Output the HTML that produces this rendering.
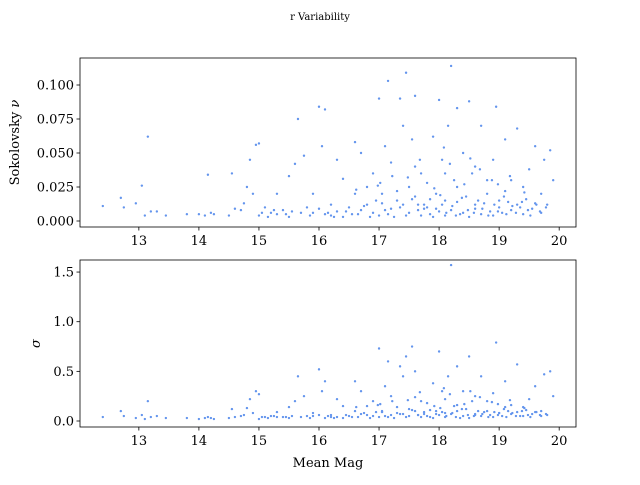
<!DOCTYPE html>
<html><head><meta charset="utf-8"><style>
body{margin:0;background:#fff;}
svg text{font-family:"DejaVu Serif","Liberation Serif",serif;fill:#000;}
</style></head><body>
<svg id="fig" width="640" height="480" xmlns="http://www.w3.org/2000/svg">
<text x="320" y="20" font-size="10" text-anchor="middle">r Variability</text>
<g id="top"></g>
<g id="bot"></g>
</svg>
<script>
const mags=[12.4,12.7,12.75,12.95,13.05,13.15,13.2,13.3,13.45,13.1,13.8,14.0,14.1,14.15,14.2,14.25,14.5,14.6,14.7,14.55,14.75,14.8,14.85,14.9,14.95,15.0,15.0,15.1,15.2,15.3,15.4,15.5,15.6,15.65,15.7,15.75,15.8,15.9,16.0,16.05,16.1,16.1,16.2,16.3,16.3,16.4,16.5,16.6,16.6,16.7,16.8,16.9,17.0,17.05,17.1,17.1,17.15,17.2,17.3,17.35,17.4,17.45,17.5,17.55,17.6,17.65,17.7,17.8,17.9,17.95,18.0,18.05,18.1,18.15,18.2,18.25,18.3,18.35,18.4,18.5,18.55,18.6,18.7,18.8,18.9,18.95,19.0,19.1,19.2,19.3,19.35,19.5,19.6,19.7,19.75,19.85,19.9,19.8,16.55,16.7,16.85,16.95,17.0,17.2,17.25,17.4,17.5,17.6,17.7,17.75,17.85,17.9,18.0,18.05,18.1,18.2,18.3,18.4,18.45,18.5,18.6,18.7,18.75,18.85,18.9,19.0,19.05,19.15,19.2,19.3,19.4,19.45,19.55,19.6,19.7,16.4,16.2,15.9,15.5,15.3,17.3,17.8,18.3,18.8,19.1,18.6,17.6,18.1,16.8,19.4,
15.05,15.15,15.25,15.45,15.55,15.85,16.0,16.15,16.25,16.45,16.65,16.75,16.9,17.05,17.15,17.35,17.45,17.55,17.65,17.75,17.85,17.95,18.02,18.12,18.22,18.28,18.38,18.48,18.58,18.65,18.72,18.82,18.92,18.98,19.08,19.12,19.22,19.28,19.38,19.48,19.52,19.62,19.68,19.78,17.02,17.48,17.92,18.18,18.42,18.68,18.88,19.18,19.42,17.22,17.68,18.08,18.52,18.98,16.62,16.98];
const nus=[.011,.017,.010,.013,.026,.062,.007,.007,.004,.004,.005,.005,.004,.034,.006,.005,.004,.009,.008,.035,.013,.025,.045,.02,.056,.057,.004,.01,.006,.02,.008,.033,.042,.075,.006,.048,.01,.02,.084,.055,.082,.005,.012,.045,.007,.031,.01,.058,.02,.05,.012,.035,.09,.02,.055,.008,.103,.043,.015,.09,.07,.109,.025,.06,.092,.012,.035,.01,.062,.02,.089,.045,.015,.07,.114,.03,.083,.005,.05,.088,.035,.012,.07,.02,.045,.084,.015,.06,.03,.068,.01,.038,.055,.02,.045,.052,.03,.012,.005,.008,.003,.015,.004,.009,.003,.012,.006,.018,.004,.009,.016,.003,.007,.012,.004,.008,.014,.006,.018,.003,.009,.005,.013,.007,.004,.01,.006,.014,.008,.012,.005,.016,.009,.013,.006,.003,.004,.006,.003,.005,.022,.028,.025,.03,.022,.04,.04,.035,.025,.025,
.006,.003,.008,.005,.007,.004,.009,.006,.003,.007,.005,.011,.006,.013,.005,.01,.004,.016,.008,.012,.005,.009,.019,.006,.011,.004,.017,.008,.006,.015,.009,.004,.012,.007,.018,.005,.011,.006,.014,.008,.004,.012,.007,.01,.028,.032,.024,.042,.027,.038,.03,.033,.021,.033,.045,.054,.046,.027,.023,.026];
const sigmas=[.04,.10,.05,.03,.06,.20,.04,.05,.03,.02,.03,.02,.03,.04,.03,.02,.03,.04,.05,.12,.06,.13,.22,.08,.30,.27,.02,.04,.05,.09,.04,.14,.20,.45,.04,.25,.05,.08,.52,.30,.40,.03,.06,.22,.04,.15,.05,.40,.10,.30,.06,.20,.73,.10,.35,.05,.60,.25,.08,.55,.45,.65,.12,.75,.50,.06,.20,.05,.38,.10,.70,.30,.08,.45,1.57,.15,.55,.03,.30,.65,.20,.06,.45,.10,.28,.79,.08,.40,.16,.57,.05,.22,.35,.10,.47,.50,.25,.06,.04,.07,.03,.09,.04,.06,.03,.07,.05,.10,.04,.07,.11,.03,.06,.09,.04,.07,.10,.05,.12,.03,.07,.05,.09,.06,.04,.08,.05,.10,.07,.09,.05,.11,.07,.09,.05,.03,.04,.05,.03,.04,.14,.18,.16,.20,.14,.25,.24,.22,.15,.14,
.04,.03,.05,.04,.05,.03,.06,.05,.03,.06,.04,.08,.05,.09,.04,.07,.04,.11,.06,.09,.04,.07,.13,.05,.08,.04,.12,.06,.05,.10,.07,.04,.09,.06,.12,.04,.08,.05,.10,.06,.04,.09,.06,.07,.17,.21,.15,.27,.17,.24,.19,.21,.13,.2,.29,.33,.3,.17,.14,.16];
const xTicks=[13,14,15,16,17,18,19,20];
const topTicks=[0,0.025,0.05,0.075,0.1];
const topLabels=["0.000","0.025","0.050","0.075","0.100"];
const botTicks=[0,0.5,1.0,1.5];
const botLabels=["0.0","0.5","1.0","1.5"];
const NS="http://www.w3.org/2000/svg";
const L=80,R=576;
const xs=v=>L+(v-12.02)/(20.28-12.02)*(R-L);
function mk(p,t,a){const e=document.createElementNS(NS,t);for(const k in a)e.setAttribute(k,a[k]);p.appendChild(e);return e;}
function panel(g,top,bot,ys,vals,ticks,labels,ylabel,showX){
  for(let i=0;i<mags.length;i++){
    const c=mk(g,'circle',{cx:xs(mags[i]),cy:ys(vals[i]),r:1.2,fill:'#6495ed'});
    
    
  }
  const f=mk(g,'rect',{x:L,y:top,width:R-L,height:bot-top,fill:'none',stroke:'#000','stroke-width':0.8});
  
  
  ticks.forEach((t,i)=>{
    const y=ys(t);
    mk(g,'line',{x1:L-3.5,x2:L,y1:y,y2:y,stroke:'#000','stroke-width':0.8});
    const tx=mk(g,'text',{x:L-6,y:y+4.5,'font-size':13,'text-anchor':'end'});
    tx.textContent=labels[i];
    
    
  });
  xTicks.forEach(t=>{
    const x=xs(t);
    mk(g,'line',{x1:x,x2:x,y1:bot,y2:bot+3.5,stroke:'#000','stroke-width':0.8});
    const tx=mk(g,'text',{x:x,y:bot+18,'font-size':13,'text-anchor':'middle'});
    tx.textContent=t;
    
    
  });
  const yl=mk(g,'text',{x:0,y:0,'font-size':13,'text-anchor':'middle',transform:`translate(${ylabel[1]},${(top+bot)/2}) rotate(-90)`});
  yl.innerHTML=ylabel[0];
  
  
}
const topY=v=>221-v*1360;
const botY=v=>421-v*99.3;
panel(document.getElementById('top'),58,227,topY,nus,topTicks,topLabels,['Sokolovsky <tspan font-style="italic">ν</tspan>',19]);
panel(document.getElementById('bot'),260,427,botY,sigmas,botTicks,botLabels,['<tspan font-style="italic">σ</tspan>',40]);
const xl=mk(document.getElementById('bot'),'text',{x:328,y:467,'font-size':13,'text-anchor':'middle'});
xl.textContent="Mean Mag";


</script>
</body></html>
